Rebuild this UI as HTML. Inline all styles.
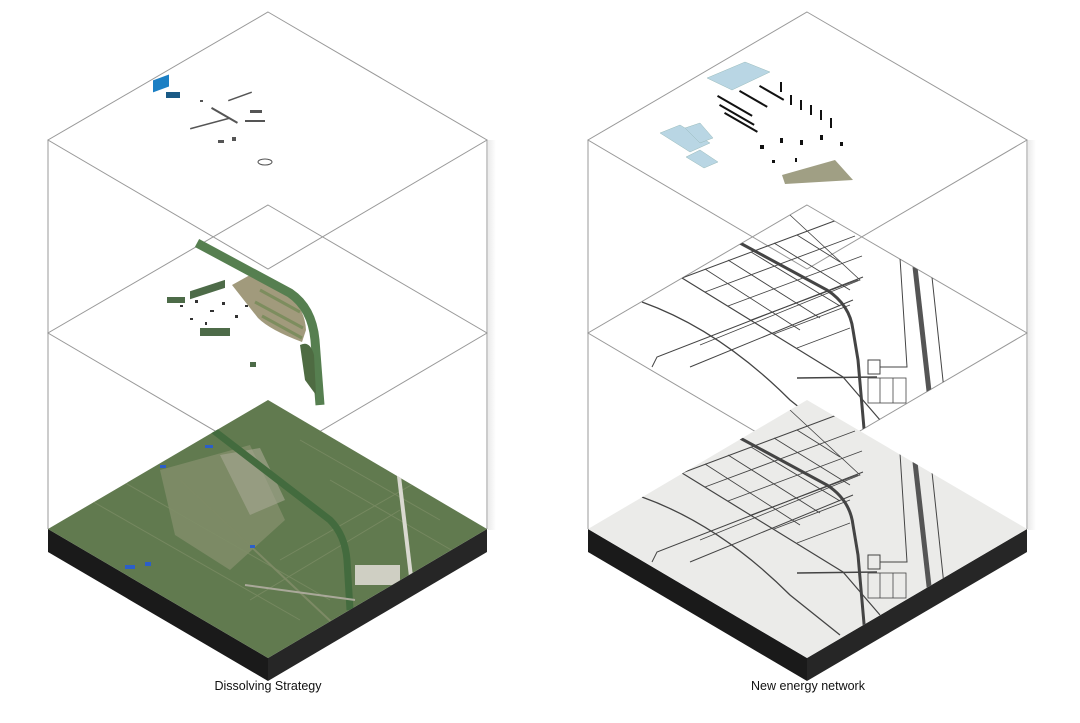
<!DOCTYPE html>
<html><head><meta charset="utf-8"><style>
html,body{margin:0;padding:0;background:#fff;}
svg{display:block;}
text{font-family:"Liberation Sans",sans-serif;}
</style></head><body>
<svg width="1080" height="723" viewBox="0 0 1080 723" xmlns="http://www.w3.org/2000/svg">
<defs>
<clipPath id="cR2"><polygon points="807,205 1027,333 807,462 588,333"/></clipPath>
<clipPath id="cRB"><polygon points="807,400 1027,529 807,658 588,529"/></clipPath>
<clipPath id="cLB"><polygon points="268,400 487,529 268,658 48,529"/></clipPath>
<linearGradient id="sh" x1="0" x2="1"><stop offset="0" stop-color="#ddd"/><stop offset="1" stop-color="#fff"/></linearGradient>
<g id="roads" fill="none" stroke="#444">
 <path d="M740,243 L827,290 Q850,305 853,330 L858,360 L865,440" stroke-width="3"/>
 <path d="M915,267 L930,400" stroke="#555" stroke-width="5"/>
 <path d="M900,258 L907,367 L880,367" stroke-width="1"/>
 <path d="M932,277 L944,390" stroke-width="1"/>
 <path d="M642,302 Q720,330 790,400 L840,440" stroke-width="1.3"/>
 <path d="M682,278 L843,377 L880,420" stroke-width="1.2"/>
 <path d="M652,367 L657,357 L863,277" stroke-width="1"/>
 <path d="M690,367 L853,300" stroke-width="1"/>
 <path d="M797,378 L877,377" stroke-width="1.5"/>
 <path d="M682,278 L837,220" stroke-width="1"/>
 <path d="M705,292 L855,236 M728,306 L862,256 M751,320 L858,280 M774,334 L850,305 M797,348 L850,328" stroke-width="0.9"/>
 <path d="M705,269 L800,330 M728,260 L820,318 M751,252 L840,306 M774,243 L850,290 M797,235 L840,262" stroke-width="0.9"/>
 <path d="M790,215 L860,280 L700,345" stroke-width="0.8"/>
 <rect x="868" y="360" width="12" height="14" stroke-width="1"/>
 <rect x="868" y="378" width="38" height="25" stroke-width="0.8"/>
 <path d="M880,378 V403 M893,378 V403" stroke-width="0.8"/>
</g>
</defs>
<rect x="488" y="140" width="8" height="390" fill="url(#sh)" opacity="0.6"/>
<rect x="1028" y="140" width="8" height="390" fill="url(#sh)" opacity="0.6"/>

<!-- LEFT -->
<g fill="none" stroke="#999" stroke-width="1">
 <polygon points="268,12 487,140 268,269 48,140"/>
 <polygon points="268,205 487,333 268,462 48,333"/>
 <line x1="48" y1="140" x2="48" y2="529"/><line x1="487" y1="140" x2="487" y2="529"/>
</g>
<g fill="#1b7fc4"><rect x="153" y="81" width="16" height="12" transform="skewY(-20) translate(0,55)"/></g>
<rect x="166" y="92" width="14" height="6" fill="#1a5a86"/>
<g fill="#555">
 <rect x="200" y="100" width="3" height="2"/><rect x="212" y="107" width="30" height="2" transform="rotate(30 212 107)"/>
 <rect x="228" y="100" width="25" height="1.5" transform="rotate(-20 228 100)"/>
 <rect x="190" y="128" width="40" height="1.5" transform="rotate(-15 190 128)"/>
 <rect x="218" y="140" width="6" height="3"/><rect x="232" y="137" width="4" height="4"/>
 <rect x="245" y="120" width="20" height="2"/><rect x="250" y="110" width="12" height="3"/>
 <ellipse cx="265" cy="162" rx="7" ry="3" fill="none" stroke="#555"/>
</g>
<path d="M250,275 L290,296 Q305,310 306,330 L302,342 Q270,330 258,318 L232,285 Z" fill="#a19a7c"/>
<path d="M260,290 L300,312 M255,302 L303,328 M262,316 L302,338" stroke="#7d8d5e" stroke-width="3"/>
<path d="M197,243 L290,293 Q312,308 315,340 L320,405" fill="none" stroke="#567f50" stroke-width="9"/>
<path d="M300,345 Q310,340 314,355 L316,395 L305,380 Z" fill="#4e6b42"/>
<g fill="#4d6b48"><rect x="190" y="283" width="35" height="8" transform="skewY(-18) translate(0,70)"/><rect x="167" y="297" width="18" height="6"/><rect x="200" y="328" width="30" height="8"/><rect x="250" y="362" width="6" height="5"/></g>
<g fill="#333"><rect x="180" y="305" width="3" height="2"/><rect x="195" y="300" width="3" height="3"/><rect x="210" y="310" width="4" height="2"/><rect x="222" y="302" width="3" height="3"/><rect x="190" y="318" width="3" height="2"/><rect x="235" y="315" width="3" height="3"/><rect x="245" y="305" width="3" height="2"/><rect x="205" y="322" width="2" height="3"/></g>
<polygon points="48,529 268,658 268,681 48,552" fill="#1a1a1a"/>
<polygon points="268,658 487,529 487,552 268,681" fill="#262626"/>
<polygon points="268,400 487,529 268,658 48,529" fill="#617a4f"/>
<g clip-path="url(#cLB)">
 <polygon points="160,470 250,445 285,520 230,570 175,535" fill="#8d9575" opacity="0.6"/>
 <polygon points="220,455 260,448 285,500 250,515" fill="#a9a895" opacity="0.6"/>
 <g stroke="#7f8f68" stroke-width="1" opacity="0.7">
  <path d="M90,500 L300,620 M120,480 L330,600 M300,440 L440,520 M330,480 L460,555 M280,560 L420,480 M250,600 L400,510"/>
 </g>
 <path d="M200,420 L330,520 Q345,535 347,560 L350,610" fill="none" stroke="#436b3e" stroke-width="7"/>
 <path d="M398,468 L412,585" stroke="#d9d9d0" stroke-width="4"/>
 <rect x="355" y="565" width="45" height="20" fill="#cfcfc3"/>
 <path d="M180,480 L340,630" stroke="#7d8a65" stroke-width="2"/>
 <path d="M245,585 L355,600" stroke="#aaa99a" stroke-width="2"/>
 <g fill="#2c5fc8"><rect x="205" y="445" width="8" height="3"/><rect x="160" y="465" width="6" height="3"/><rect x="250" y="545" width="5" height="3"/><rect x="125" y="565" width="10" height="4"/><rect x="145" y="562" width="6" height="4"/></g>
</g>

<!-- RIGHT -->
<g fill="none" stroke="#999" stroke-width="1">
 <polygon points="807,12 1027,140 807,269 588,140"/>
 <polygon points="807,205 1027,333 807,462 588,333"/>
 <line x1="588" y1="140" x2="588" y2="529"/><line x1="1027" y1="140" x2="1027" y2="529"/>
</g>
<g clip-path="url(#cR2)"><use href="#roads"/></g>
<g fill="#b9d6e4" stroke="#9bb" stroke-width="0.5">
 <polygon points="707,78 745,62 770,72 732,90"/>
 <polygon points="660,133 680,125 710,143 690,152"/>
 <polygon points="685,128 700,123 713,138 700,143"/>
 <polygon points="686,157 700,150 718,162 704,168"/>
</g>
<polygon points="782,175 835,160 853,180 785,184" fill="#a09f84"/>
<g fill="#111">
 <rect x="718" y="95" width="40" height="2" transform="rotate(30 718 95)"/>
 <rect x="720" y="104" width="40" height="2" transform="rotate(30 720 104)"/>
 <rect x="725" y="112" width="38" height="2" transform="rotate(30 725 112)"/>
 <rect x="740" y="90" width="32" height="2" transform="rotate(30 740 90)"/>
 <rect x="760" y="85" width="28" height="2" transform="rotate(30 760 85)"/>
 <rect x="780" y="82" width="2" height="10"/><rect x="790" y="95" width="2" height="10"/><rect x="800" y="100" width="2" height="10"/><rect x="810" y="105" width="2" height="10"/><rect x="820" y="110" width="2" height="10"/><rect x="830" y="118" width="2" height="10"/>
 <rect x="760" y="145" width="4" height="4"/><rect x="780" y="138" width="3" height="5"/><rect x="800" y="140" width="3" height="5"/><rect x="820" y="135" width="3" height="5"/><rect x="840" y="142" width="3" height="4"/><rect x="772" y="160" width="3" height="3"/><rect x="795" y="158" width="2" height="4"/>
</g>
<polygon points="588,529 807,658 807,681 588,552" fill="#1a1a1a"/>
<polygon points="807,658 1027,529 1027,552 807,681" fill="#262626"/>
<polygon points="807,400 1027,529 807,658 588,529" fill="#ebebe9"/>
<g clip-path="url(#cRB)"><use href="#roads" transform="translate(0,195)"/></g>

<text x="268" y="690" font-size="12.5" text-anchor="middle" fill="#111">Dissolving Strategy</text>
<text x="808" y="690" font-size="12.5" text-anchor="middle" fill="#111">New energy network</text>
</svg>
</body></html>
